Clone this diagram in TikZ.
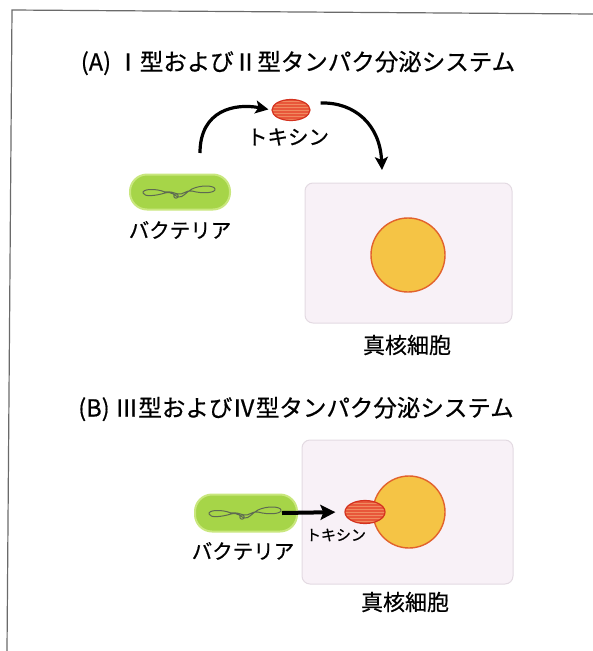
\documentclass[tikz,border=0pt]{standalone}
\usepackage{fontspec}
\newfontfamily\jp[FakeBold=0.6]{Noto Sans CJK JP}
\usetikzlibrary{arrows.meta,shapes.geometric}

\definecolor{bactgreen}{HTML}{A6D548}
\definecolor{bactrim}{HTML}{C9E77E}
\definecolor{toxfill}{HTML}{E8573A}
\definecolor{toxline}{HTML}{D4321E}
\definecolor{toxhatch}{HTML}{F08A60}
\definecolor{nucfill}{HTML}{F5C445}
\definecolor{nucline}{HTML}{E2622C}
\definecolor{cellfill}{HTML}{F8F1F7}
\definecolor{cellline}{HTML}{E3DAE2}
\definecolor{framegray}{HTML}{6A6A6A}
\definecolor{dnagray}{HTML}{5E6A52}

\tikzset{
  paneltitle/.style={font=\jp\fontsize{23.5}{23.5}\selectfont, inner sep=0},
  caption/.style={font=\jp\fontsize{20.5}{20.5}\selectfont, inner sep=0},
  bigcaption/.style={font=\jp\fontsize{22}{22}\selectfont, inner sep=0},
  smallcaption/.style={font=\jp\fontsize{15}{15}\selectfont, inner sep=0},
  cell/.style={draw=cellline, fill=cellfill, line width=1pt, rounded corners=8pt, inner sep=0},
  nucleus/.style={circle, draw=nucline, fill=nucfill, line width=1.4pt, inner sep=0},
  bacterium/.style={draw=bactrim, fill=bactgreen, line width=2pt, rounded corners=17pt, inner sep=0},
  toxin/.style={ellipse, draw=toxline, fill=toxfill, line width=1.2pt, inner sep=0,
    path picture={
      \foreach \k in {-12,-9,...,12}
        \draw[toxhatch, line width=0.5pt]
          ([yshift=\k pt]path picture bounding box.west) --
          ([yshift=\k pt]path picture bounding box.east);
    }},
  flow/.style={line width=3.2pt, -{Stealth[length=13pt,width=13pt,inset=3pt]}},
  thickflow/.style={line width=4pt, -{Stealth[length=15pt,width=15pt,inset=3pt]}},
  dna/.pic={
    \draw[dnagray, line width=1pt, line join=round]
      (-15,0) .. controls (-25,-4) and (-38,-3) .. (-37,1)
      .. controls (-36,5) and (-25,4) .. (-15,1)
      .. controls (-8,-1) and (-5,4) .. (-2,5)
      .. controls (3,6) and (6,0) .. (12,-3)
      .. controls (20,-7) and (34,-7) .. (35,-3)
      .. controls (36,1) and (22,2) .. (12,-1)
      .. controls (6,-2) and (3,3) .. (-2,2)
      .. controls (-6,1) and (-10,-1) .. (-15,0);
    \draw[dnagray, line width=1pt] (-4,4) circle (2.2);
  }
}

\begin{document}
\begin{tikzpicture}[x=1pt,y=-1pt]
  \useasboundingbox (0,0) rectangle (593,651);

  % outer frame
  \draw[framegray, line width=1.2pt] (593,14) -- (12,10) -- (7,651);

  % ---------- panel A ----------
  \node[paneltitle] (titleA) at (298,63) {(A) Ⅰ型およびⅡ型タンパク分泌システム};

  \node[cell, minimum width=207pt, minimum height=140pt] (cellA) at (408.5,253) {};
  \node[nucleus, minimum size=74pt] (nucA) at (408,255) {};
  \node[bigcaption] (cellAlbl) at (407,345) {真核細胞};

  \node[bacterium, minimum width=100pt, minimum height=35pt] (bactA) at (180,192) {};
  \pic at (bactA) {dna};
  \node[caption] (bactAlbl) at (180,230) {バクテリア};

  \node[toxin, minimum width=38pt, minimum height=21pt] (toxA) at (291,110) {};
  \node[caption] (toxAlbl) at (288,137) {トキシン};

  \coordinate (riseA) at (200,153);
  \coordinate (dropA) at (382,170);
  \draw[flow, shorten >=3pt] (riseA) .. controls (200,110) and (235,103) .. (toxA.west);
  \draw[flow] ([shift={(10,-7)}]toxA.east) .. controls (355,102) and (380,125) .. (dropA);

  % ---------- panel B ----------
  \node[paneltitle] (titleB) at (296,409) {(B) Ⅲ型およびⅣ型タンパク分泌システム};

  \node[cell, minimum width=211pt, minimum height=144pt] (cellB) at (407.5,512) {};
  \node[nucleus, minimum size=72pt] (nucB) at (409,512) {};
  \node[bigcaption] (cellBlbl) at (405,602) {真核細胞};

  \node[bacterium, minimum width=102pt, minimum height=37pt] (bactB) at (246,513) {};
  \pic at (bactB) {dna};
  \node[caption] (bactBlbl) at (243,551) {バクテリア};

  \node[toxin, minimum width=40pt, minimum height=23pt] (toxB) at (365,512) {};
  \node[smallcaption] (toxBlbl) at (336,535) {トキシン};

  \draw[thickflow, shorten >=9pt] ([xshift=-16pt]bactB.east) -- (toxB.west);
\end{tikzpicture}
\end{document}
